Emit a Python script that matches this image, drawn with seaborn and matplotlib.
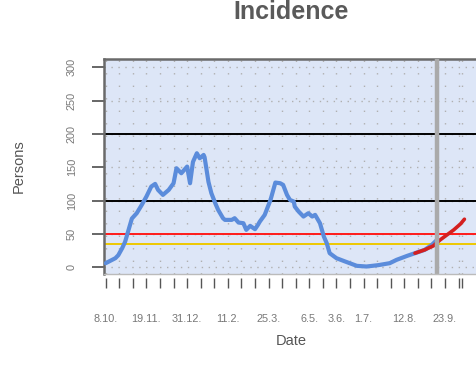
import numpy as np
import pandas as pd
import matplotlib
matplotlib.use("Agg")
import matplotlib.pyplot as plt
import matplotlib.dates as mdates
import seaborn as sns

# ---- data ----
start = pd.Timestamp("2020-10-08")
obs_days = [0, 10, 13, 17, 20, 23, 27, 32, 37, 42, 47, 51, 54, 59, 65, 70, 73, 78, 84, 87,
            90, 94, 97, 101, 102, 106, 109, 111, 113, 116, 118, 121, 123, 126, 130, 133, 137,
            142, 145, 149, 154, 157, 159, 164, 170, 175, 180, 183, 187, 190, 194, 195, 199,
            204, 209, 213, 216, 221, 225, 228, 231, 238, 247, 259, 269, 281, 293, 300, 311,
            319, 329, 336, 341]
obs_values = [6, 13.5, 18, 28.5, 38, 53, 73, 81, 93, 106, 121, 125, 116, 108.5, 116, 126, 148.5,
              141, 151, 126, 158, 171, 163.5, 168.5, 165, 128, 111, 103.5, 96, 86, 81, 73.5, 71,
              71, 71, 73.5, 67, 66, 56, 62, 57, 63.5, 68.5, 78.5, 101, 127, 126, 123.5, 108.5,
              101, 98.5, 91, 83.5, 76, 81, 76, 78.5, 66, 46, 36, 21, 13.5, 8.5, 2, 1, 3, 6, 11,
              17, 21, 26, 33, 40]
fc_days = [319, 329, 338, 345, 352, 359, 366, 370]
fc_values = [21, 26, 32, 41, 48.5, 56, 65, 72]
hlines_black = [100, 200]
hline_red = 50
hline_gold = 35
today_day = 342
tick_days = list(range(0, 365, 14)) + [368]
labeled_days = [0, 42, 84, 126, 168, 210, 238, 266, 308, 350]
yticks = [0, 50, 100, 150, 200, 250, 300]

obs = pd.DataFrame({"Date": start + pd.to_timedelta(obs_days, unit="D"), "Persons": obs_values})
fc = pd.DataFrame({"Date": start + pd.to_timedelta(fc_days, unit="D"), "Persons": fc_values})

sns.set_theme(style="white")
plt.rcParams["font.family"] = ["Liberation Sans", "DejaVu Sans"]

fig = plt.figure(figsize=(4.76, 3.78), dpi=100)
ax = fig.add_axes([104 / 476, 1 - 273.5 / 378, 374 / 476, (273.5 - 59) / 378])
ax.set_facecolor("#dde6f7")

# grid
tick_dates = [start + pd.Timedelta(days=d) for d in tick_days]
for t in tick_dates:
    ax.axvline(t, color="#b0b0b0", lw=1.0, ls=(0, (1, 8)), zorder=1)
for yv in yticks:
    ax.axhline(yv, color="#b0b0b0", lw=1.0, ls=(0, (1, 4)), zorder=1)

for yv in hlines_black:
    ax.axhline(yv, color="black", lw=1.4, zorder=2)
ax.axhline(hline_red, color="#ff1a1a", lw=1.4, zorder=2)
ax.axhline(hline_gold, color="#eec900", lw=1.4, zorder=2)

sns.lineplot(data=obs, x="Date", y="Persons", ax=ax, color="#5b8cdb", lw=3.0, zorder=3)
sns.lineplot(data=fc, x="Date", y="Persons", ax=ax, color="#d42020", lw=2.6, zorder=4)
ax.axvline(start + pd.Timedelta(days=today_day), color="#aaaaaa", lw=3.2, zorder=5)

ax.set_xlim(start - pd.Timedelta(days=1.75), start + pd.Timedelta(days=384))
ax.set_ylim(-9.5, 312.5)

ax.set_xticks(tick_dates)
ax.set_xticklabels([f"{(start + pd.Timedelta(days=d)).day}.{(start + pd.Timedelta(days=d)).month}."
                    if d in labeled_days else "" for d in tick_days])
ax.set_yticks(yticks)
ax.set_yticklabels([str(v) for v in yticks], rotation=90, va="center")

ax.tick_params(axis="x", direction="out", length=7.2, width=1.0, color="#555555",
               pad=19, labelsize=7.8, labelcolor="#777777", bottom=True)
ax.tick_params(axis="y", direction="out", length=8.6, width=1.4, color="#666666",
               pad=11, labelsize=7.8, labelcolor="#777777", left=True)

for s in ["left", "top"]:
    ax.spines[s].set_color("#6a6a6a")
    ax.spines[s].set_linewidth(1.8)
ax.spines["right"].set_visible(False)
ax.spines["bottom"].set_position(("outward", 3))
ax.spines["bottom"].set_visible(False)
ax.axhline(-9.5, color="#bbbbbb", lw=1.0, zorder=6, clip_on=False)

ax.set_xlabel("Date", fontsize=10.5, color="#555555")
ax.set_ylabel("Persons", fontsize=10.5, color="#555555")
ax.yaxis.set_label_coords(-(104 - 26) / 374, 0.5)
ax.xaxis.set_label_coords((291 - 104) / 374, -(334 - 273.5) / 214.5)

fig.text(291 / 476, 1 - 19 / 378, "Incidence", ha="center", va="baseline",
         fontsize=18, fontweight="bold", color="#5a5a5a")

fig.savefig("out.png", dpi=100)
